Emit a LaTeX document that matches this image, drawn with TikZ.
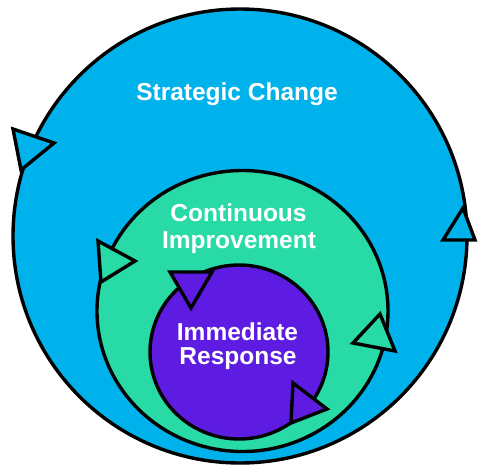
\documentclass[tikz,border=0pt]{standalone}
\usepackage{fontspec}
\setmainfont{Liberation Sans}
\definecolor{outerblue}{RGB}{0,178,236}
\definecolor{midgreen}{RGB}{40,218,166}
\definecolor{innerpurple}{RGB}{94,28,226}
\begin{document}
\begin{tikzpicture}[x=1pt,y=-1pt,
  ring/.style={draw=black,line width=3.4pt},
  tri/.style={draw=black,line width=3.4pt,line join=miter},
  lbl/.style={text=white,anchor=base,font=\fontsize{24.5}{27}\selectfont\bfseries,inner sep=0pt}]
\useasboundingbox (0,0) rectangle (478,466);

% outer cycle: strategic change
\fill[outerblue] (240,236) circle (227);
\draw[ring] (240,236) circle (227);
\filldraw[tri,fill=outerblue] (13,129) -- (54,143) -- (21,170) -- cycle;
\filldraw[tri,fill=outerblue] (463,208) -- (475,240) -- (443,240) -- cycle;

% middle cycle: continuous improvement
\fill[midgreen] (242.5,311) ellipse [x radius=145.5,y radius=140.5];
\draw[ring] (242.5,311) ellipse [x radius=145.5,y radius=140.5];
\filldraw[tri,fill=midgreen] (98,241) -- (135,261) -- (101,282) -- cycle;
\filldraw[tri,fill=midgreen] (380,314) -- (395,351) -- (353,343) -- cycle;

% inner cycle: immediate response
\fill[innerpurple] (239,352) ellipse [x radius=89,y radius=87];
\draw[ring] (239,352) ellipse [x radius=89,y radius=87];
\filldraw[tri,fill=innerpurple] (170,272) -- (212,272) -- (191,308) -- cycle;
\filldraw[tri,fill=innerpurple] (293,383) -- (327,409) -- (291,423) -- cycle;

% labels
\node[lbl] (strategic) at (237,100) {Strategic Change};
\node[lbl] (continuous) at (238.5,221) {Continuous};
\node[lbl] (improvement) at (239,248.5) {Improvement};
\node[lbl] (immediate) at (237.5,340) {Immediate};
\node[lbl] (response) at (238,364) {Response};
\end{tikzpicture}
\end{document}
